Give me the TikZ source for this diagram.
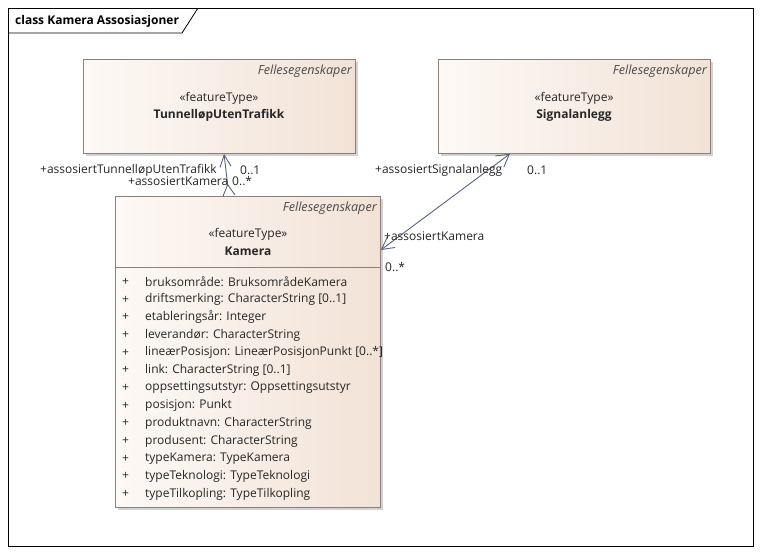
\documentclass[tikz,border=0pt]{standalone}
\usepackage{fontspec}
\setmainfont{Open Sans}
\usetikzlibrary{arrows.meta,shadows}
\definecolor{boxL}{HTML}{FDF9F6}
\definecolor{boxR}{HTML}{F2E2D6}
\definecolor{boxD}{HTML}{8C807A}
\definecolor{lnk}{HTML}{5B6384}
\definecolor{txt}{HTML}{262626}
\definecolor{stereo}{HTML}{4A4A4A}
\begin{document}
\begin{tikzpicture}[x=1pt,y=-1pt,
  font=\fontsize{12}{14}\selectfont, text=txt,
  cls/.style={draw=boxD, line width=0.8pt, left color=boxL, right color=boxR, anchor=north west, inner sep=0pt,
    drop shadow={shadow xshift=3pt, shadow yshift=-3pt, fill=black!35, opacity=0.5}},
  lbl/.style={inner sep=0pt, anchor=west},
  pkg/.style={inner sep=0pt, anchor=east, font=\fontsize{12.6}{14}\selectfont\itshape, text=stereo},
  ster/.style={inner sep=0pt, anchor=center},
  cname/.style={inner sep=0pt, anchor=center, font=\fontsize{12}{14}\selectfont\bfseries},
  assoc/.style={draw=lnk, line width=0.9pt}
]
\useasboundingbox (0,0) rectangle (761,554);
\fill[white] (0,0) rectangle (761,554);
% frame
\node[draw=black, line width=0.8pt, anchor=north west, minimum width=745pt, minimum height=538pt, inner sep=0pt] (frame) at (8,8) {};
\draw[line width=0.8pt] (8,33) -- (182,33) -- (198,8);
\node[lbl, font=\fontsize{12}{14}\selectfont\bfseries, text=black] (title) at (15,21) {class Kamera Assosiasjoner};

% TunnelløpUtenTrafikk
\node[cls, minimum width=272pt, minimum height=94pt] (tun) at (83,59) {};
\node[pkg] (tunp) at (352,71) {Fellesegenskaper};
\node[ster] (tuns) at (219,98) {«featureType»};
\node[cname] (tunn) at (219,115) {TunnelløpUtenTrafikk};

% Signalanlegg
\node[cls, minimum width=272pt, minimum height=94pt] (sig) at (438,59) {};
\node[pkg] (sigp) at (707,71) {Fellesegenskaper};
\node[ster] (sigs) at (574,98) {«featureType»};
\node[cname] (sign) at (574,115) {Signalanlegg};

% Kamera
\node[cls, minimum width=265pt, minimum height=311pt] (kam) at (115,196) {};
\draw[boxD, line width=0.8pt] (kam.west |- 0,267) -- (kam.east |- 0,267);
\node[pkg] (kamp) at (377,208) {Fellesegenskaper};
\node[ster] (kams) at (248,234) {«featureType»};
\node[cname] (kamn) at (248,251) {Kamera};
\foreach \t [count=\i from 0] in {%
  bruksområde: BruksområdeKamera,
  driftsmerking: CharacterString [0..1],
  etableringsår: Integer,
  leverandør: CharacterString,
  lineærPosisjon: LineærPosisjonPunkt [0..*],
  link: CharacterString [0..1],
  oppsettingsutstyr: Oppsettingsutstyr,
  posisjon: Punkt,
  produktnavn: CharacterString,
  produsent: CharacterString,
  typeKamera: TypeKamera,
  typeTeknologi: TypeTeknologi,
  typeTilkopling: TypeTilkopling}{
  \node[lbl] (plus\i) at (122,{282+17.67*\i}) {+};
  \node[lbl] (attr\i) at (145,{282+17.67*\i}) {\t};
}

% connectors
\coordinate (cx1) at (224,0);
\coordinate (cx2) at (229,0);
\coordinate (cx3) at (510,0);
\coordinate (cy1) at (0,250);
\coordinate (t1) at (tun.south -| cx1);
\coordinate (k1) at (kam.north -| cx2);
\coordinate (s1) at (sig.south -| cx3);
\coordinate (k2) at (kam.east |- cy1);
\draw[assoc, {Straight Barb[length=11pt,width=12pt,reversed]}-{Straight Barb[length=12pt,width=11pt]}] (k1) -- (t1);
\draw[assoc, {Straight Barb[length=12pt,width=13pt]}-{Straight Barb[length=12pt,width=14pt]}] (k2) -- (s1);

% association labels
\node[lbl] (l1) at (40,170) {+assosiertTunnelløpUtenTrafikk};
\node[lbl] (l2) at (240,170) {0..1};
\node[lbl] (l3) at (128,181) {+assosiertKamera};
\node[lbl] (l4) at (232,181) {0..*};
\node[lbl] (l5) at (375,170) {+assosiertSignalanlegg};
\node[lbl] (l6) at (527,170) {0..1};
\node[lbl] (l7) at (384,236) {+assosiertKamera};
\node[lbl] (l8) at (385,267) {0..*};
\end{tikzpicture}
\end{document}
